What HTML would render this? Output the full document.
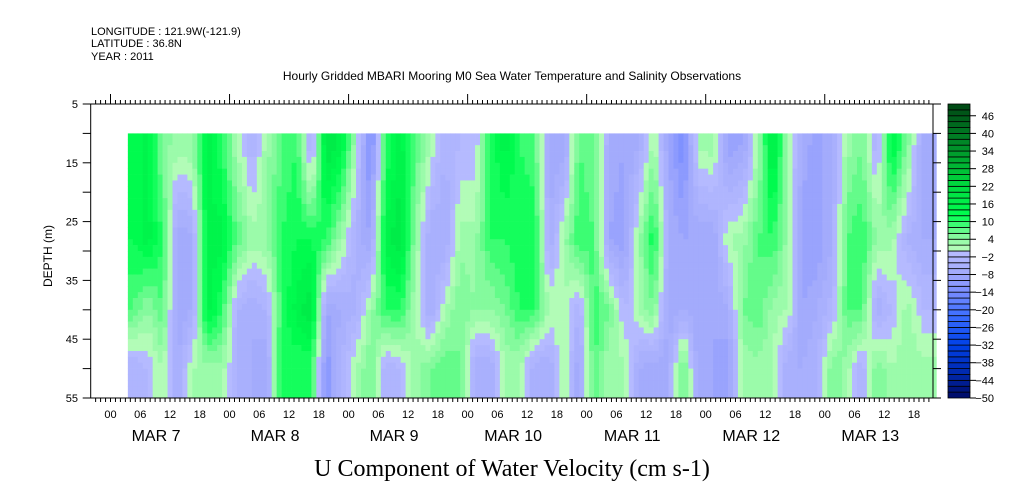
<!DOCTYPE html>
<html><head><meta charset="utf-8"><style>
body{margin:0;background:#fff;width:1009px;height:504px;overflow:hidden}
svg{display:block}
text{font-family:"Liberation Sans",sans-serif;fill:#000}
</style></head><body>
<svg id="chart" width="1009" height="504" viewBox="0 0 1009 504" xmlns="http://www.w3.org/2000/svg">
<text x="91" y="35" font-size="11">LONGITUDE : 121.9W(-121.9)</text>
<text x="91" y="47" font-size="11">LATITUDE : 36.8N</text>
<text x="91" y="60" font-size="11">YEAR : 2011</text>
<text x="512" y="80" font-size="12" text-anchor="middle">Hourly Gridded MBARI Mooring M0 Sea Water Temperature and Salinity Observations</text>
<text transform="translate(52,256) rotate(-90)" font-size="12" text-anchor="middle">DEPTH (m)</text>
<text x="512" y="476" font-size="24" text-anchor="middle" style="font-family:'Liberation Serif',serif">U Component of Water Velocity (cm s-1)</text>
<g id="heat"></g>
<g id="axes"></g>
<g id="cbar"></g>
</svg>
<script>
// time (hours since MAR 7 00) of each column center
const hours = [4.5,7.5,10.5,13.5,16.5,19.5,22.5,25.5,28.5,31.5,34.5,37.5,40.5,43.5,46.5,49.5,52.5,55.5,58.5,61.5,64.5,67.5,70.5,73.5,76.5,79.5,82.5,85.5,88.5,91.5,94.5,97.5,100.5,103.5,106.5,109.5,112.5,115.5,118.5,121.5,124.5,127.5,130.5,133.5,136.5,139.5,142.5,145.5,148.5,151.5,154.5,157.5,160.5,164];
const depths = [12,28,40,50];
const u12 = [12,15,5,3,4,15,10,2,-4,3,8,10,-6,18,15,2,-14,10,15,8,2,-4,-2,-2,10,15,10,8,-8,-8,8,6,-6,-8,-6,3,-8,-14,2,4,-10,-8,2,18,3,-6,-10,-6,3,6,-4,15,6,-8];
const u28 = [12,15,10,-8,-6,15,15,8,3,4,10,12,12,10,3,-5,-8,15,18,4,-6,-6,3,3,10,10,12,12,-6,3,10,8,-8,-10,3,12,-6,-8,-8,-8,2,3,8,10,3,-10,-10,-6,8,10,4,3,-4,-6];
const u40 = [8,4,8,-8,-6,15,10,-4,-6,-4,10,15,18,-8,-6,-4,3,10,10,2,-6,2,6,4,4,6,10,10,2,2,-4,10,6,-2,2,6,-8,-6,-8,-8,-6,6,8,3,2,-8,-6,-3,8,8,-6,-2,3,-2];
const u50 = [-4,-2,2,-6,2,3,3,-4,-6,-8,12,10,10,-12,-4,2,6,-4,-2,3,6,8,6,-6,-6,2,2,-6,-6,3,-8,8,2,3,-6,-8,-6,8,-8,-8,-10,2,3,2,-6,-6,-4,6,3,-4,6,2,4,3];
const cbarTicks = [46,40,34,28,22,16,10,4,-2,-8,-14,-20,-26,-32,-38,-44,-50];
const depthTicks = [5,15,25,35,45,55];
const dayLabels = ["MAR  7","MAR  8","MAR  9","MAR 10","MAR 11","MAR 12","MAR 13"];
const hourLabels = ["00","06","12","18"];

const NS="http://www.w3.org/2000/svg";
const X0=90.7,X1=933,Y0=104,Y1=398;
const xH=h=>110.5+4.96*h;           // hour -> px
const yD=d=>Y0+(d-5)*(Y1-Y0)/50;     // depth -> px
const yC=v=>Y1-(v+50)*(Y1-Y0)/100;   // colorbar value -> px
function el(t,a,p){const e=document.createElementNS(NS,t);for(const k in a)e.setAttribute(k,a[k]);(p||document.getElementById('chart')).appendChild(e);return e;}
function lerpC(a,b,t){return a.map((x,i)=>Math.round(x+(b[i]-x)*t));}
const gStops=[[0,[190,252,190]],[6,[120,250,150]],[12,[0,255,80]],[24,[0,210,60]],[36,[0,140,40]],[50,[0,70,20]]];
const bStops=[[0,[184,188,255]],[-8,[160,168,252]],[-14,[120,140,255]],[-22,[60,110,255]],[-32,[0,64,232]],[-42,[0,40,170]],[-50,[0,10,100]]];
function colorFor(v){
  let band=Math.floor(v/2)*2; if(band>48)band=48; if(band<-50)band=-50;
  const m=band+1, st=m>=0?gStops:bStops, a=Math.abs(m);
  for(let i=0;i<st.length-1;i++){const p=Math.abs(st[i][0]),q=Math.abs(st[i+1][0]);
    if(a>=p&&a<=q){const c=lerpC(st[i][1],st[i+1][1],(a-p)/(q-p));return `rgb(${c})`;}}
  return `rgb(${st[st.length-1][1]})`;
}
// heatmap
const rows=[u12,u28,u40,u50];
function valAt(h,d){
  let i=0;while(i<hours.length-2&&h>hours[i+1])i++;
  let tx=(h-hours[i])/(hours[i+1]-hours[i]);tx=Math.max(0,Math.min(1,tx));
  let j=0;while(j<depths.length-2&&d>depths[j+1])j++;
  let ty=(d-depths[j])/(depths[j+1]-depths[j]);ty=Math.max(0,Math.min(1,ty));
  const a=rows[j][i]*(1-tx)+rows[j][i+1]*tx, b=rows[j+1][i]*(1-tx)+rows[j+1][i+1]*tx;
  return a*(1-ty)+b*ty;
}
const heat=document.getElementById('heat');
for(let h=3.5;h<166;h+=1){
  for(let d=10;d<55;d+=1){
    const r=el('rect',{x:xH(h).toFixed(2),y:yD(d).toFixed(2),width:5.3,height:6.2,fill:colorFor(valAt(h+0.5,d+0.5))},heat);
    
    
  }
}
// axes
const ax=document.getElementById('axes');
el('rect',{x:X0,y:Y0,width:X1-X0,height:Y1-Y0,fill:'none',stroke:'#000','stroke-width':1},ax);
for(let h=-4;h<=166;h++){const x=xH(h);if(x<X0||x>X1)continue;
  const day=(h%24===0);
  el('line',{x1:x,x2:x,y1:Y0,y2:Y0-(day?10:4),stroke:'#000'},ax);
  el('line',{x1:x,x2:x,y1:Y1,y2:Y1+4,stroke:'#000'},ax);
  if(h%6===0&&h>=0){const t=el('text',{x:x,y:Y1+20,'font-size':11,'text-anchor':'middle'},ax);t.textContent=hourLabels[(h/6)%4];
    
    }
}
dayLabels.forEach((s,i)=>{const t=el('text',{x:xH(24*i+12)-14,y:Y1+43,'font-size':16,'text-anchor':'middle','xml:space':'preserve'},ax);t.textContent=s;
  
  });
for(let d=5;d<=55;d+=5){const y=yD(d);
  el('line',{x1:X0-8,x2:X0,y1:y,y2:y,stroke:'#000'},ax);
  el('line',{x1:X1,x2:X1+8,y1:y,y2:y,stroke:'#000'},ax);}
depthTicks.forEach(d=>{const t=el('text',{x:78,y:yD(d)+4,'font-size':11,'text-anchor':'end'},ax);t.textContent=d;
  
  });
// colorbar
const cb=document.getElementById('cbar');
for(let v=-50;v<50;v+=2){
  const r=el('rect',{x:948,y:yC(v+2),width:22,height:yC(v)-yC(v+2),fill:colorFor(v),stroke:'#000','stroke-width':0.8},cb);
  
  
}
cbarTicks.forEach(v=>{const y=yC(v);
  el('line',{x1:970,x2:976,y1:y,y2:y,stroke:'#000'},cb);
  const t=el('text',{x:994,y:y+4,'font-size':11,'text-anchor':'end'},cb);t.textContent=v<0?'\u2212'+(-v):v;
  
  });
</script>
</body></html>
